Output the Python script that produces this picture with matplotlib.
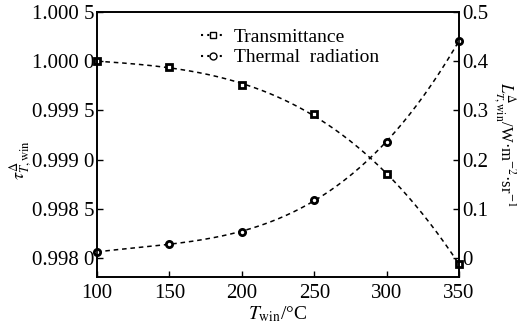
import numpy as np
import matplotlib
matplotlib.use("Agg")
import matplotlib.pyplot as plt
from matplotlib.ticker import FuncFormatter

T = [100, 150, 200, 250, 300, 350]
trans = [1.00000, 0.99994, 0.99976, 0.99946, 0.99885, 0.99794]
rad = [0.012, 0.028, 0.053, 0.118, 0.236, 0.442]

plt.rcParams['font.family'] = ['Liberation Serif', 'DejaVu Serif']
plt.rcParams['mathtext.fontset'] = 'stix'

fig = plt.figure(figsize=(5.17, 3.25), dpi=100)
ax = fig.add_axes([0.1876, 0.148, 0.7004, 0.815])
ax2 = ax.twinx()

xs = np.linspace(100, 350, 200)
pt = np.polyfit(T, trans, 3)
pr = np.polyfit(T, rad, 3)
ax.plot(xs, np.polyval(pt, xs), color='black', ls=(0, (3, 2.5)), lw=1.1)
ax2.plot(xs, np.polyval(pr, xs), color='black', ls=(0, (3, 2.5)), lw=1.1)
ax.plot(T, trans, ls='none', marker='s', ms=5, mfc='white', mec='black', mew=2, clip_on=False)
ax2.plot(T, rad, ls='none', marker='o', ms=4.5, mfc='white', mec='black', mew=2, clip_on=False)

ax.set_xlim(100, 350)
ax.set_ylim(0.99781, 1.0005)
ax2.set_ylim(-0.0388, 0.5)
ax.set_xticks(T)
ax.set_yticks([0.998, 0.9985, 0.999, 0.9995, 1.0, 1.0005])
ax2.set_yticks([0, 0.1, 0.2, 0.3, 0.4, 0.5])

def lfmt(v, p):
    s = f"{v:.4f}"
    return s[:-1] + " " + s[-1]
ax.yaxis.set_major_formatter(FuncFormatter(lfmt))
ax2.yaxis.set_major_formatter(FuncFormatter(lambda v, p: "0" if abs(v) < 1e-9 else f"{v:.1f}"))

for a in (ax, ax2):
    a.tick_params(direction='in', labelsize=15, length=4, width=1)
    for s in a.spines.values():
        s.set_linewidth(1.2)
ax.tick_params(axis='x', top=False, pad=5)
ax.tick_params(axis='y', right=False, pad=2)
ax2.tick_params(axis='y', left=False, pad=2)

ax.set_xlabel(r"$T_{\mathrm{win}}$/°C", fontsize=14)
ax.xaxis.set_label_coords(0.5, -0.105)
ax.set_ylabel(r"$\tau^{\Delta}_{T,\mathrm{win}}$", fontsize=13, va='center')
ax.yaxis.set_label_coords(-0.21, 0.44)
ax2.set_ylabel(r"$L^{\Delta}_{T,\mathrm{win}}$/W·m$^{-2}$·sr$^{-1}$", fontsize=12, rotation=270, va='center')
ax2.yaxis.set_label_coords(1.125, 0.5)

h1, = ax.plot([], [], color='black', ls=(0, (1, 2)), marker='s', ms=5, mfc='white', mec='black', mew=1)
h2, = ax.plot([], [], color='black', ls=(0, (1, 2)), marker='o', ms=5, mfc='white', mec='black', mew=1)
ax.legend([h1, h2], ["Transmittance", "Thermal  radiation"], loc='upper left',
          bbox_to_anchor=(0.25, 0.99), frameon=False, fontsize=14, handlelength=1.2,
          handletextpad=0.5, labelspacing=0.15, borderaxespad=0.3)

fig.savefig("out.png", dpi=100)
